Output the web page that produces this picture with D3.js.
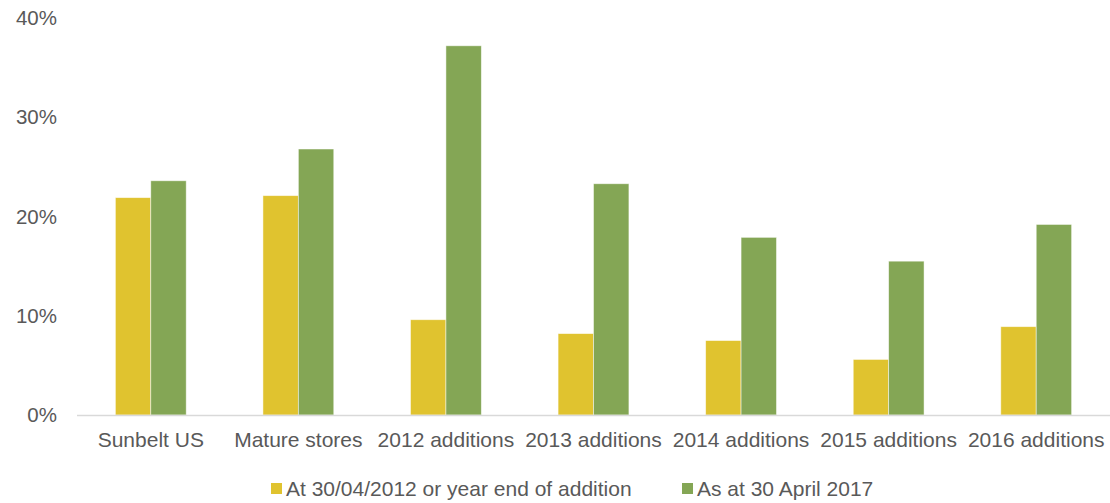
<!DOCTYPE html>
<html><head><meta charset="utf-8">
<script src="https://cdn.jsdelivr.net/npm/d3@7"></script>
<style>body{margin:0;background:#fff}svg{display:block}text{font-family:"Liberation Sans",Arial,sans-serif;fill:#595959}</style>
</head><body><svg id="c" width="1110" height="503"></svg>
<script>
const categories = ["Sunbelt US","Mature stores","2012 additions","2013 additions","2014 additions","2015 additions","2016 additions"];
const seriesNames = ["At 30/04/2012 or year end of addition","As at 30 April 2017"];
const seriesA = [0.219,0.221,0.096,0.082,0.075,0.056,0.089];
const seriesB = [0.236,0.268,0.372,0.233,0.179,0.155,0.192];
const yTicks = [0,0.1,0.2,0.3,0.4];
const colors = ["#E0C32F","#84A655"];

const svg = d3.select("#c");
const x = d3.scaleBand().domain(categories).range([77,1110]).paddingInner(0.52).paddingOuter(0.26);
const x1 = d3.scaleBand().domain([0,1]).range([0,x.bandwidth()]);
const y = d3.scaleLinear().domain([0,0.4]).range([415,18]);

// y tick labels
svg.append("g").selectAll("text").data(yTicks).join("text")
  .attr("x",57).attr("y",d=>y(d)).attr("dy","0.35em").attr("text-anchor","end")
  .attr("font-size",20.5).text(d3.format(".0%"));

const data = categories.map((c,i)=>({c,v:[seriesA[i],seriesB[i]]}));
const g = svg.append("g");
data.forEach(d=>{
  d.v.forEach((v,j)=>{
    g.append("rect").attr("x",x(d.c)+x1(j)).attr("y",y(v)).attr("width",x1.bandwidth()).attr("height",y(0)-y(v))
      .attr("fill",colors[j]).attr("stroke","#fff").attr("stroke-opacity",0.6).attr("stroke-width",0.8);
  });
});

// axis line
svg.append("line").attr("x1",77).attr("x2",1110).attr("y1",y(0)+0.5).attr("y2",y(0)+0.5).attr("stroke","#d9d9d9").attr("stroke-width",1.5);

// category labels
svg.append("g").selectAll("text").data(categories).join("text")
  .attr("x",d=>x(d)+x.bandwidth()/2).attr("y",440).attr("dy","0.35em").attr("text-anchor","middle")
  .attr("font-size",21).text(d=>d);

// legend
const legX = [271,682];
seriesNames.forEach((n,j)=>{
  svg.append("rect").attr("x",legX[j]).attr("y",483).attr("width",11).attr("height",11).attr("fill",colors[j]);
  svg.append("text").attr("x",legX[j]+15).attr("y",489).attr("dy","0.35em").attr("font-size",21).text(n);
});
</script></body></html>
